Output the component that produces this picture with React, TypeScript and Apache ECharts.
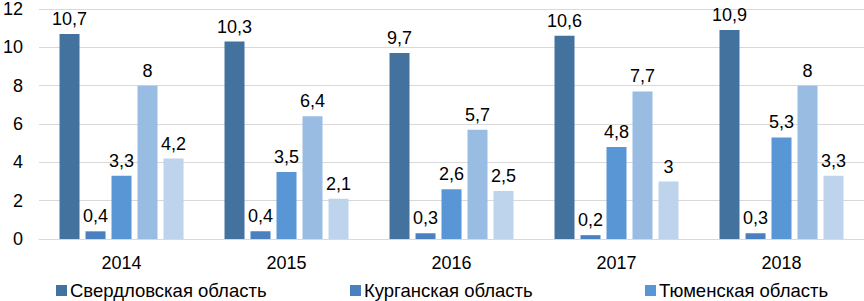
import React, { useEffect, useRef } from "react";
import * as echarts from "echarts";

const categories = ["2014", "2015", "2016", "2017", "2018"];
const seriesNames = [
  "Свердловская область",
  "Курганская область",
  "Тюменская область",
  "Ханты-Мансийский автономный округ",
  "Ямало-Ненецкий автономный округ",
];
const sverdlovsk = [10.7, 10.3, 9.7, 10.6, 10.9];
const kurgan = [0.4, 0.4, 0.3, 0.2, 0.3];
const tyumen = [3.3, 3.5, 2.6, 4.8, 5.3];
const khmao = [8, 6.4, 5.7, 7.7, 8];
const yanao = [4.2, 2.1, 2.5, 3, 3.3];
const yTicks = { min: 0, max: 12, interval: 2 };

const colors = ["#43729F", "#4A80C0", "#5896D5", "#99BCE3", "#BED3EC"];
const FONT = "'Liberation Sans', Arial, sans-serif";

export default function App() {
  const ref = useRef<HTMLDivElement>(null);
  useEffect(() => {
    if (!ref.current) return;
    const chart = echarts.init(ref.current, undefined, { renderer: "svg" });
    const values = [sverdlovsk, kurgan, tyumen, khmao, yanao];
    const legendLeft = [56, 350, 645];
    chart.setOption({
      animation: false,
      backgroundColor: "#ffffff",
      textStyle: { fontFamily: FONT },
      grid: { left: 35, right: -20, top: 6, bottom: 62 },
      legend: [0, 1, 2].map((i) => ({
        data: [seriesNames[i]],
        left: legendLeft[i],
        top: 281,
        icon: "rect",
        itemWidth: 11,
        itemHeight: 11,
        itemGap: 4,
        padding: 0,
        textStyle: { fontSize: 18.5, color: "#000", fontFamily: FONT, padding: [0, 0, 0, -2] },
      })),
      xAxis: {
        type: "category",
        data: categories,
        axisTick: { show: false },
        axisLine: { lineStyle: { color: "#D9D9D9" } },
        axisLabel: { fontSize: 18, color: "#000", margin: 15, fontFamily: FONT },
      },
      yAxis: {
        type: "value",
        min: yTicks.min,
        max: yTicks.max,
        interval: yTicks.interval,
        axisLine: { show: false },
        axisTick: { show: false },
        splitLine: { lineStyle: { color: "#D9D9D9" } },
        axisLabel: { fontSize: 18, color: "#000", margin: 16, fontFamily: FONT },
      },
      series: values.map((d, i) => ({
        name: seriesNames[i],
        type: "bar",
        data: d,
        barWidth: 20,
        barGap: "30%",
        itemStyle: { color: colors[i] },
        label: {
          show: true,
          position: "top",
          distance: 6,
          fontSize: 18,
          color: "#000",
          fontFamily: FONT,
          formatter: (p: any) => String(p.value).replace(".", ","),
        },
      })),
    });
    return () => chart.dispose();
  }, []);
  return (
    <div style={{ position: "fixed", left: 0, top: 0, width: 864, height: 301, overflow: "hidden", background: "#fff" }}>
      <div ref={ref} style={{ width: 864, height: 301 }} />
    </div>
  );
}
